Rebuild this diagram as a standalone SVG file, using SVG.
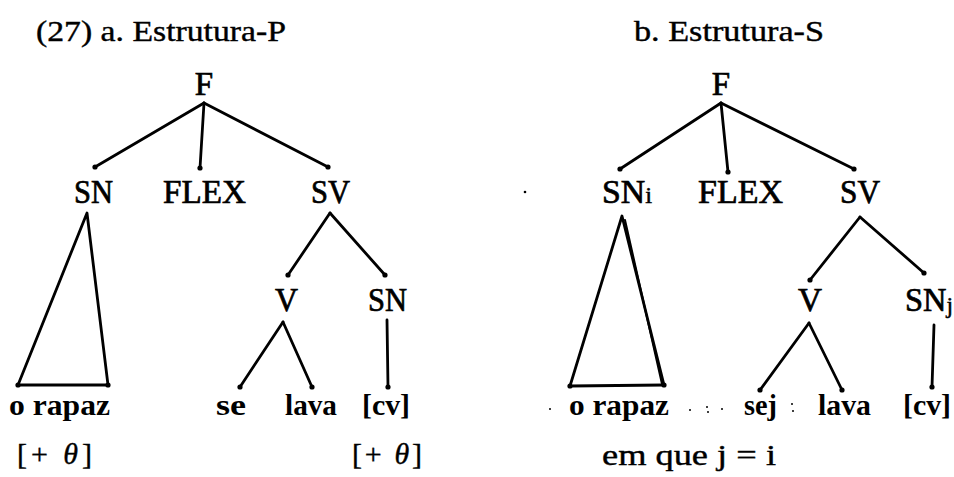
<svg xmlns="http://www.w3.org/2000/svg" width="954" height="477" viewBox="0 0 954 477">
<style>
text{font-family:"Liberation Serif","Times New Roman",serif;fill:#000}
.t{font-size:30px;stroke:#000;stroke-width:0.4}
.n{font-size:33px;stroke:#000;stroke-width:0.7}
.s{font-size:24px;stroke:#000;stroke-width:0.5}
.w{font-size:30px;font-weight:bold}
.l line,.l polyline{stroke:#000;stroke-width:2.8;stroke-linecap:round;stroke-linejoin:round;fill:none}
.d circle{fill:#000}
</style>
<rect width="954" height="477" fill="#fff"/>
<g id="titles">
<text class="t" x="36" y="41" textLength="250" lengthAdjust="spacingAndGlyphs">(27) a. Estrutura-P</text>
<text class="t" x="634" y="41" textLength="190" lengthAdjust="spacingAndGlyphs">b. Estrutura-S</text>
</g>
<g id="connectors" class="l">
<line x1="204" y1="103" x2="95" y2="167"/>
<line x1="204" y1="103" x2="200" y2="168"/>
<line x1="204" y1="103" x2="328" y2="167"/>
<polyline points="18,385 87,213 108,385"/>
<line x1="18" y1="385" x2="108" y2="385"/>
<line x1="330" y1="213" x2="288" y2="275"/>
<line x1="330" y1="213" x2="385" y2="275"/>
<line x1="283" y1="322" x2="240" y2="387"/>
<line x1="283" y1="322" x2="312" y2="387"/>
<line x1="387" y1="320" x2="388" y2="387"/>
<line x1="721" y1="103" x2="620" y2="169"/>
<line x1="721" y1="103" x2="728" y2="172"/>
<line x1="721" y1="103" x2="854" y2="169"/>
<polyline points="570,386 622,216 664,385"/>
<line x1="625" y1="220" x2="662" y2="384" style="stroke-width:2"/>
<line x1="570" y1="386" x2="664" y2="385"/>
<line x1="860" y1="217" x2="810" y2="280"/>
<line x1="860" y1="217" x2="924" y2="273"/>
<line x1="809" y1="323" x2="760" y2="390"/>
<line x1="809" y1="323" x2="842" y2="390"/>
<line x1="934" y1="325" x2="932" y2="387"/>
</g>
<g class="d">
<circle cx="95" cy="167" r="2.6"/><circle cx="200" cy="168" r="2.6"/><circle cx="328" cy="167" r="2.6"/>
<circle cx="18" cy="385" r="2.6"/><circle cx="108" cy="385" r="2.6"/>
<circle cx="288" cy="275" r="2.6"/><circle cx="385" cy="275" r="2.6"/>
<circle cx="240" cy="387" r="2.6"/><circle cx="312" cy="387" r="2.6"/><circle cx="388" cy="387" r="2.6"/>
<circle cx="620" cy="169" r="2.6"/><circle cx="728" cy="172" r="2.6"/><circle cx="854" cy="169" r="2.6"/>
<circle cx="570" cy="386" r="2.6"/><circle cx="664" cy="385" r="2.6"/>
<circle cx="810" cy="280" r="2.6"/><circle cx="924" cy="273" r="2.6"/>
<circle cx="760" cy="390" r="2.6"/><circle cx="842" cy="390" r="2.6"/><circle cx="932" cy="387" r="2.6"/>
<circle cx="525" cy="192" r="1.3"/>
<circle cx="550" cy="409" r="1"/><circle cx="690" cy="410" r="1"/><circle cx="707" cy="407" r="1"/><circle cx="708" cy="412" r="1"/><circle cx="722" cy="409" r="1"/><circle cx="792" cy="404" r="1"/><circle cx="793" cy="411" r="1"/>
</g>
<g id="tree-a">
<g id="a-F"><text class="n" x="204" y="95" text-anchor="middle">F</text></g>
<g id="a-SN"><text class="n" x="74" y="203" textLength="39" lengthAdjust="spacingAndGlyphs">SN</text></g>
<g id="a-FLEX"><text class="n" x="163" y="203" textLength="83" lengthAdjust="spacingAndGlyphs">FLEX</text></g>
<g id="a-SV"><text class="n" x="311" y="203" textLength="39" lengthAdjust="spacingAndGlyphs">SV</text></g>
<g id="a-V"><text class="n" x="275" y="311" textLength="23" lengthAdjust="spacingAndGlyphs">V</text></g>
<g id="a-SN2"><text class="n" x="368" y="311" textLength="39" lengthAdjust="spacingAndGlyphs">SN</text></g>
<g id="a-orapaz"><text class="w" x="9" y="415" textLength="101" lengthAdjust="spacingAndGlyphs">o rapaz</text></g>
<g id="a-se"><text class="w" x="216" y="415" textLength="30" lengthAdjust="spacingAndGlyphs">se</text></g>
<g id="a-lava"><text class="w" x="285" y="415" textLength="52" lengthAdjust="spacingAndGlyphs">lava</text></g>
<g id="a-cv"><text class="w" x="362" y="415" textLength="48" lengthAdjust="spacingAndGlyphs">[cv]</text></g>
<g id="a-theta1"><text class="t" x="17" y="464" textLength="75" lengthAdjust="spacing">[+ <tspan font-style="italic">θ</tspan>]</text></g>
<g id="a-theta2"><text class="t" x="352" y="464" textLength="70" lengthAdjust="spacing">[+ <tspan font-style="italic">θ</tspan>]</text></g>
</g>
<g id="tree-b">
<g id="b-F"><text class="n" x="721" y="95" text-anchor="middle">F</text></g>
<g id="b-SNi"><text class="n" x="602" y="203" textLength="50" lengthAdjust="spacingAndGlyphs">SN<tspan font-size="24" stroke-width="0.5">i</tspan></text></g>
<g id="b-FLEX"><text class="n" x="698" y="203" textLength="85" lengthAdjust="spacingAndGlyphs">FLEX</text></g>
<g id="b-SV"><text class="n" x="840" y="203" textLength="40" lengthAdjust="spacingAndGlyphs">SV</text></g>
<g id="b-V"><text class="n" x="798" y="311" textLength="24" lengthAdjust="spacingAndGlyphs">V</text></g>
<g id="b-SNj"><text class="n" x="905" y="311" textLength="48" lengthAdjust="spacingAndGlyphs">SN<tspan font-size="24" stroke-width="0.5" dy="2">j</tspan></text></g>
<g id="b-orapaz"><text class="w" x="569" y="415" textLength="100" lengthAdjust="spacingAndGlyphs">o rapaz</text></g>
<g id="b-sej"><text class="w" x="744" y="415" textLength="33" lengthAdjust="spacingAndGlyphs">sej</text></g>
<g id="b-lava"><text class="w" x="818" y="415" textLength="53" lengthAdjust="spacingAndGlyphs">lava</text></g>
<g id="b-cv"><text class="w" x="903" y="415" textLength="48" lengthAdjust="spacingAndGlyphs">[cv]</text></g>
<g id="b-note"><text class="t" x="602" y="465" textLength="174" lengthAdjust="spacingAndGlyphs">em que j = i</text></g>
</g>
</svg>
